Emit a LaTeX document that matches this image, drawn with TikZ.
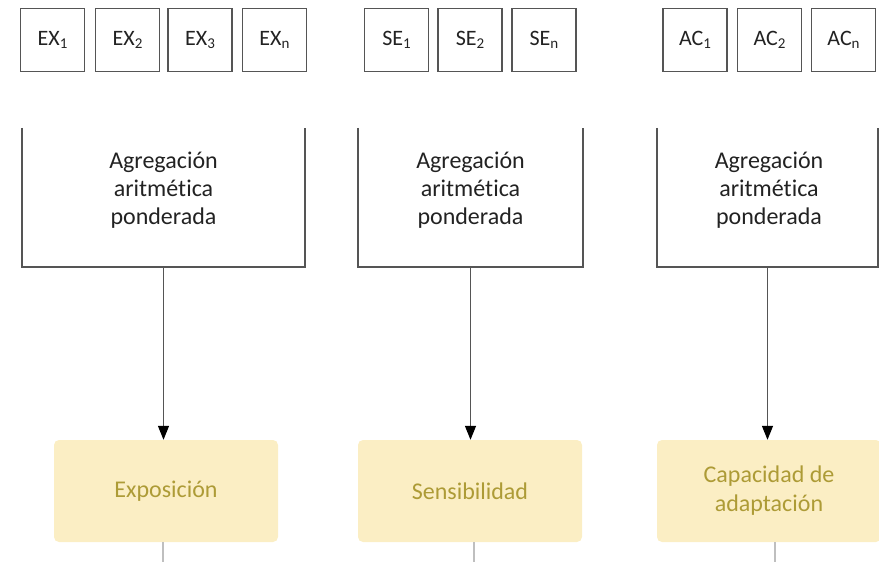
\documentclass[tikz,border=0pt]{standalone}
\usepackage{fontspec}
\setmainfont[Ligatures=NoCommon]{Carlito}
\usetikzlibrary{arrows.meta}
\usetikzlibrary{positioning}
\definecolor{mgray}{HTML}{555555}
\definecolor{mtext}{HTML}{222222}
\definecolor{myellow}{HTML}{FBEEC4}
\definecolor{mgold}{HTML}{AD9B36}
\tikzset{ind/.style = {draw=mgray, line width=1.6pt, minimum width=64, minimum height=63,
                       inner sep=0, font=\fontsize{22}{26}\selectfont, text=mtext}}
\tikzset{frame/.style = {minimum height=139, inner sep=0}}
\tikzset{bracket/.style = {draw=mgray, line width=1.6pt}}
\tikzset{agg/.style = {align=center, text=mtext, font=\fontsize{24}{28}\selectfont}}
\tikzset{dim/.style = {fill=myellow, rounded corners=5, minimum width=224, minimum height=102,
                       align=center, text=mgold, font=\fontsize{24}{29}\selectfont}}
\tikzset{flow/.style = {draw=mgray, line width=1.3pt,
                        -{Triangle[width=11pt,length=14pt,color=black]}}}
\tikzset{tail/.style = {draw=gray!50, line width=1.3pt}}
\newcommand{\idx}[1]{\raisebox{-0.35ex}{\fontsize{15}{15}\selectfont #1}}

\begin{document}
\begin{tikzpicture}[x=1pt, y=-1pt]
    \useasboundingbox (0, 0) rectangle (879, 562);

    % indicators
    \foreach \name/\lbl/\x in {ex1/EX\idx{1}/52.5, ex2/EX\idx{2}/127.5,
                               ex3/EX\idx{3}/200, exn/EX\idx{n}/274.5,
                               se1/SE\idx{1}/396.5, se2/SE\idx{2}/470,
                               sen/SE\idx{n}/544,
                               ac1/AC\idx{1}/695, ac2/AC\idx{2}/769.5,
                               acn/AC\idx{n}/843.5}
        \node [ind] (\name) at (\x, 40) {\lbl};

    % aggregation frames
    \node [frame, minimum width=283] (brk1) at (163.5, 197.5) {};
    \node [frame, minimum width=225] (brk2) at (470.5, 197.5) {};
    \node [frame, minimum width=221] (brk3) at (767.5, 197.5) {};
    \foreach \b in {brk1, brk2, brk3}
        \draw [bracket] (\b.north west) -- (\b.south west) -- (\b.south east) -- (\b.north east);

    \node [agg] (agg1) at (163.5, 190) {Agregación\\aritmética\\ponderada};
    \node [agg] (agg2) at (470.5, 190) {Agregación\\aritmética\\ponderada};
    \node [agg] (agg3) at (769, 190) {Agregación\\aritmética\\ponderada};

    % dimensions
    \node [dim] (exp) at (166, 491) {Exposición};
    \node [dim] (sen) at (470, 491) {Sensibilidad};
    \node [dim] (cap) at (769, 491) {Capacidad de\\adaptación};

    \draw [flow] (brk1.south) -- (brk1.south |- exp.north);
    \draw [flow] (brk2.south) -- (brk2.south |- sen.north);
    \draw [flow] (brk3.south) -- (brk3.south |- cap.north);

    \coordinate (end1) at (163, 562);
    \coordinate (end2) at (474, 562);
    \coordinate (end3) at (775, 562);
    \draw [tail] (exp.south -| end1) -- (end1);
    \draw [tail] (sen.south -| end2) -- (end2);
    \draw [tail] (cap.south -| end3) -- (end3);
  \end{tikzpicture}
\end{document}
